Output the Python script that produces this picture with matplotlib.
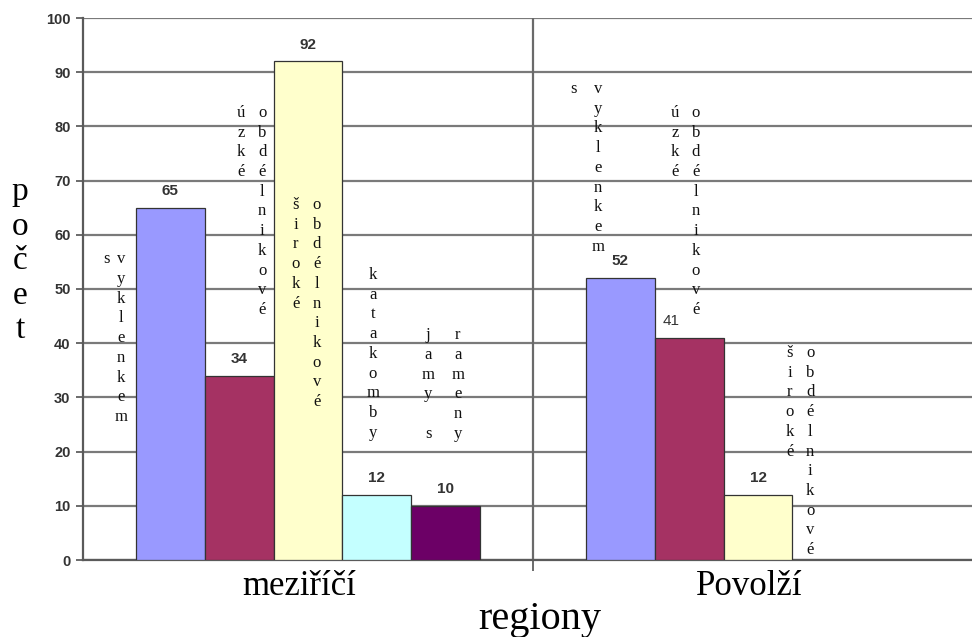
import numpy as np
import matplotlib
matplotlib.use("Agg")
import matplotlib.pyplot as plt

# --- data -------------------------------------------------------------
regions = ["meziříčí", "Povolží"]
types = ["s vyklenkem", "úzké obdélnikové", "široké obdélnikové",
         "katakomby", "jamy s rameny"]
values = {
    "meziříčí": [65, 34, 92, 12, 10],
    "Povolží": [52, 41, 12, 0, 0],
}
colors = ["#9999FF", "#A53263", "#FFFFCC", "#C4FFFF", "#6C0066"]
yticks = list(range(0, 101, 10))

# stacked (vertical letter) labels: columns of text per region
label_cols = {
    "meziříčí": [["s", "vyklenkem"], ["úzké", "obdélnikové"],
                 ["široké", "obdélnikové"], ["katakomby"],
                 ["jamy s", "rameny"]],
    "Povolží": [["s", "vyklenkem"], ["úzké", "obdélnikové"],
                ["široké", "obdélnikové"]],
}
# where each column starts (x in data units from group centre, y in data)
label_pos = {
    "meziříčí": [[(-0.448, 55.5), (-0.416, 55.5)],
                 [(-0.149, 82.5), (-0.102, 82.5)],
                 [(-0.027, 65.5), (0.020, 65.5)],
                 [(0.144, 52.6)],
                 [(0.267, 41.5), (0.333, 41.5)]],
    "Povolží": [[(-0.411, 86.9), (-0.356, 86.9)],
                [(-0.184, 82.5), (-0.138, 82.5)],
                [(0.071, 38.2), (0.116, 38.2)]],
}

serif = ["Liberation Serif", "DejaVu Serif"]
sans = ["Liberation Sans", "DejaVu Sans"]

fig = plt.figure(figsize=(9.72, 6.37), dpi=100)
ax = fig.add_axes([83 / 972, 77 / 637, 900 / 972, 542 / 637])

w = 0.1533
x = np.arange(len(regions))
for i, t in enumerate(types):
    vals = [values[r][i] for r in regions]
    pos = x + (i - 2) * w
    for j, (p, v) in enumerate(zip(pos, vals)):
        if v == 0:
            continue
        ax.bar(p, v, width=w, color=colors[i], edgecolor="#333333",
               linewidth=0.9, zorder=3)
        plain = (j == 1 and i == 1)
        dx = -0.04 if plain else 0
        ax.annotate(str(v), (p + dx, v), xytext=(0, 12),
                    textcoords="offset points", ha="center", va="center",
                    fontsize=11, fontweight="normal" if plain else "bold",
                    color="#333333", family=sans, zorder=5)

# stacked letters
step = 14.2
for j, r in enumerate(regions):
    for cols, poss in zip(label_cols[r], label_pos[r]):
        for word, (px, py) in zip(cols, poss):
            for k, ch in enumerate(word):
                if ch == " ":
                    continue
                ax.annotate(ch, (j + px, py), xytext=(0, -k * step),
                            textcoords="offset points", ha="center",
                            va="center", fontsize=12, family=serif,
                            color="#111111", zorder=6)

ax.set_xlim(-0.5, 1.5)
ax.set_ylim(0, 100)
ax.set_yticks(yticks)
ax.set_yticklabels([str(t) for t in yticks], fontsize=10.5,
                   fontweight="bold", color="#333333", family=sans)
ax.yaxis.grid(True, color="#7a7a7a", linewidth=1.6, zorder=0)
ax.set_axisbelow(True)
ax.axvline(0.5, color="#6a6a6a", linewidth=1.6, zorder=1)

ax.set_xticks([0.5])
ax.set_xticklabels([""])
ax.tick_params(axis="x", length=8, width=1.4, color="#6a6a6a")
ax.tick_params(axis="y", length=5, width=1.4, color="#6a6a6a", pad=4)

for s in ["top", "right"]:
    ax.spines[s].set_visible(False)
ax.spines["left"].set_color("#5a5a5a")
ax.spines["left"].set_linewidth(1.6)
ax.spines["bottom"].set_color("#5a5a5a")
ax.spines["bottom"].set_linewidth(1.6)

for j, r in enumerate(regions):
    ax.text(j - 0.02, -4.9, r, ha="center", va="center", fontsize=25,
            family=serif, color="black")
ax.text(0.515, -10.9, "regiony", ha="center", va="center", fontsize=29,
        family=serif, color="black")

# y label as stacked letters
for k, ch in enumerate("počet"):
    fig.text(20 / 972, 1 - (192 + k * 34.5) / 637, ch, ha="center",
             va="center", fontsize=24, family=serif, color="black")

fig.savefig("out.png", dpi=100)
